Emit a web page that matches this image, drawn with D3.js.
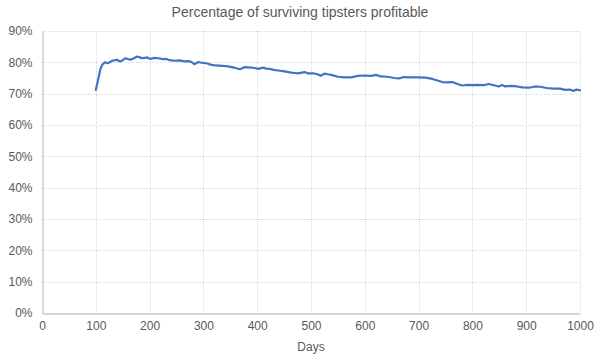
<!DOCTYPE html>
<html>
<head>
<meta charset="utf-8">
<script src="https://cdn.jsdelivr.net/npm/d3@7"></script>
<style>
html,body{margin:0;padding:0;background:#fff;}
svg{display:block;font-family:"Liberation Sans",Arial,sans-serif;}
</style>
</head>
<body>
<svg id="chart" width="600" height="358"></svg>
<script>
const title = "Percentage of surviving tipsters profitable";
const xTitle = "Days";
const xTicks = [0,100,200,300,400,500,600,700,800,900,1000];
const yTicks = [0,10,20,30,40,50,60,70,80,90];
const days = [100,105,108,112,117,122,126,130,139,145,150,155,164,170,176,181,185,190,195,201,208,216,225,230,235,241,247,255,266,272,278,283,291,298,306,315,324,334,346,355,361,368,377,389,395,402,411,417,423,431,439,451,463,470,476,488,494,504,512,518,525,531,538,550,562,575,587,599,612,621,630,642,655,664,673,686,698,713,720,726,735,744,754,763,772,781,791,800,809,821,830,840,849,855,861,870,883,893,905,917,926,938,951,963,972,981,987,994,1000];
const pct = [71.2,75.0,77.5,79.3,80.0,79.7,80.0,80.5,80.8,80.3,80.7,81.3,80.8,81.2,81.8,81.7,81.3,81.4,81.6,81.1,81.4,81.3,81.0,81.1,80.8,80.6,80.5,80.6,80.3,80.4,80.1,79.4,80.1,79.8,79.7,79.2,79.0,78.9,78.7,78.4,78.1,77.8,78.5,78.3,78.2,77.9,78.3,78.0,77.9,77.6,77.4,77.1,76.7,76.6,76.5,76.9,76.5,76.5,76.2,75.7,76.4,76.2,76.0,75.4,75.2,75.2,75.7,75.8,75.7,76.0,75.5,75.4,75.0,74.9,75.3,75.2,75.2,75.1,74.9,74.7,74.2,73.7,73.6,73.7,73.1,72.6,72.8,72.7,72.8,72.7,73.1,72.7,72.3,72.8,72.3,72.5,72.3,72.0,71.9,72.3,72.2,71.8,71.6,71.6,71.2,71.3,70.9,71.3,71.1];

const svg = d3.select("#chart");
const L = 42, R = 580, T = 31, B = 313;
const x = d3.scaleLinear().domain([0,1000]).range([L,R]);
const y = d3.scaleLinear().domain([0,90]).range([B,T]);
const grid = "#d9d9d9", txt = "#595959";

// horizontal gridlines
svg.append("g").selectAll("line").data(yTicks.filter(d=>d>0)).join("line")
  .attr("x1",L).attr("x2",R).attr("y1",d=>Math.round(y(d))+0.5).attr("y2",d=>Math.round(y(d))+0.5)
  .attr("stroke",grid).attr("stroke-width",1).attr("stroke-dasharray","1,1");
// vertical gridlines
svg.append("g").selectAll("line").data(xTicks.filter(d=>d>0)).join("line")
  .attr("x1",d=>Math.round(x(d))+0.5).attr("x2",d=>Math.round(x(d))+0.5).attr("y1",T).attr("y2",B)
  .attr("stroke",grid).attr("stroke-width",1).attr("stroke-dasharray","1,1");

// axes
const xAxis = d3.axisBottom(x).tickValues(xTicks).tickSize(0).tickPadding(8).tickFormat(d3.format("d"));
const gx = svg.append("g").attr("transform",`translate(0,${B+0.5})`).call(xAxis);
gx.select(".domain").attr("stroke","#c8c8c8").attr("stroke-width",1.3);
gx.selectAll("text").attr("fill",txt).attr("font-size",12).attr("font-family","Liberation Sans, Arial, sans-serif");

const yAxis = d3.axisLeft(y).tickValues(yTicks).tickSize(0).tickPadding(10).tickFormat(d=>d+"%");
const gy = svg.append("g").attr("transform",`translate(${L+0.5},0)`).call(yAxis);
gy.select(".domain").attr("stroke","#c8c8c8").attr("stroke-width",1.3);
gy.selectAll("text").attr("fill",txt).attr("font-size",12).attr("font-family","Liberation Sans, Arial, sans-serif");

// line
const data = days.map((d,i)=>({d, v:pct[i]}));
svg.append("path").datum(data)
  .attr("fill","none").attr("stroke","#4472C4").attr("stroke-width",2.2)
  .attr("stroke-linejoin","round").attr("stroke-linecap","round")
  .attr("d", d3.line().x(p=>x(p.d)).y(p=>y(p.v)));

// titles
svg.append("text").attr("x",300).attr("y",17).attr("text-anchor","middle")
  .attr("fill",txt).attr("font-size",14).text(title);
svg.append("text").attr("x",(L+R)/2).attr("y",351).attr("text-anchor","middle")
  .attr("fill",txt).attr("font-size",12).text(xTitle);
</script>
</body>
</html>
